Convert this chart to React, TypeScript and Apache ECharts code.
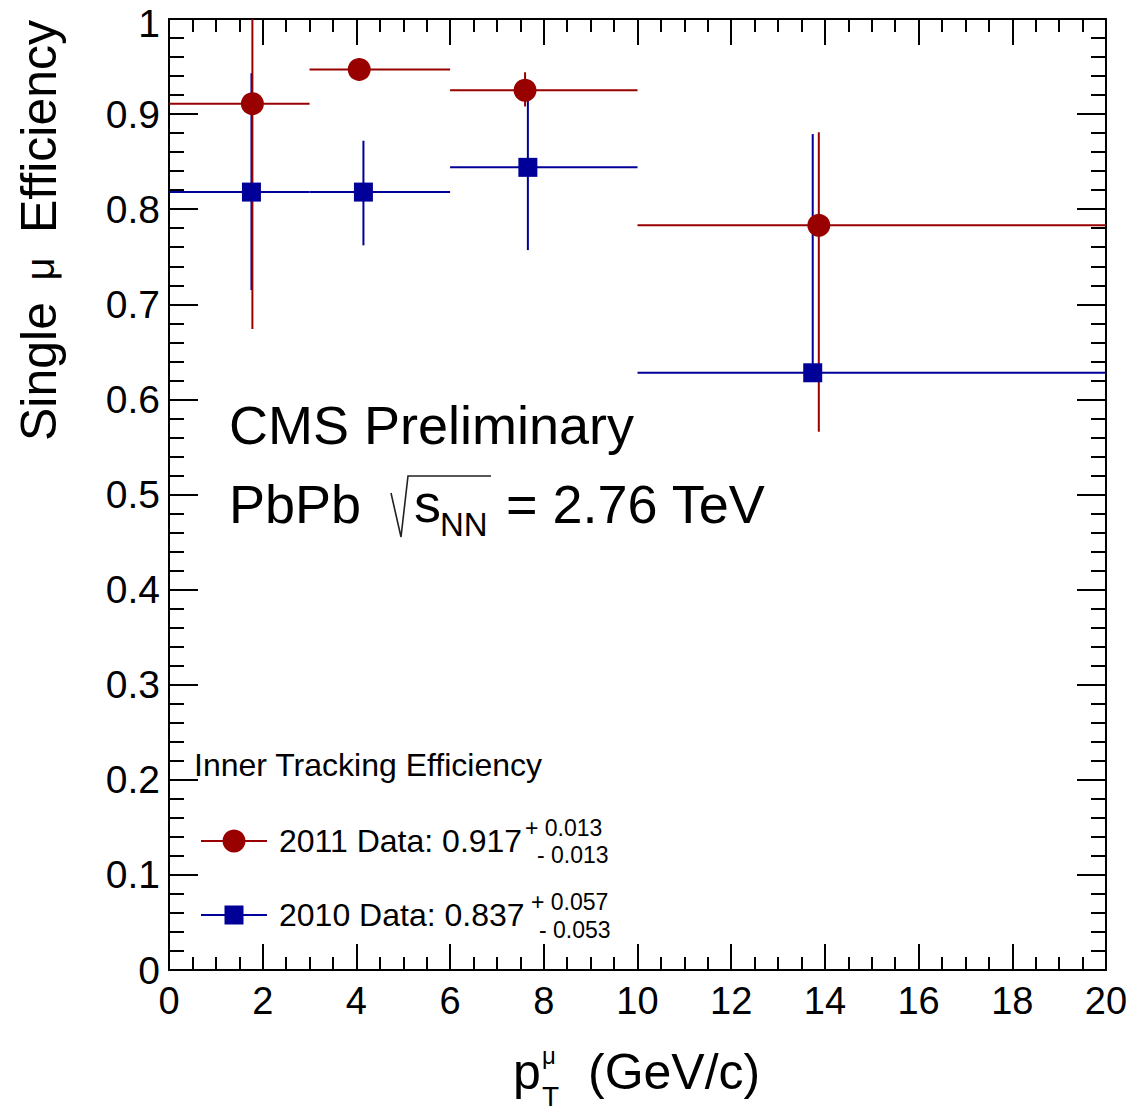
import React, { useEffect, useRef } from "react";
import * as echarts from "echarts";

// ---- data ----
const X_2011 = [1.78, 4.06, 7.6, 13.87];
const Y_2011 = [0.911, 0.947, 0.925, 0.783];
const XLO_2011 = [0, 3, 6, 10];
const XHI_2011 = [3, 6, 10, 20];
const YLO_2011 = [0.674, 0.935, 0.908, 0.566];
const YHI_2011 = [1.0, 0.959, 0.944, 0.881];

const X_2010 = [1.76, 4.15, 7.66, 13.74];
const Y_2010 = [0.818, 0.818, 0.844, 0.628];
const XLO_2010 = [0, 3, 6, 10];
const XHI_2010 = [3, 6, 10, 20];
const YLO_2010 = [0.715, 0.762, 0.757, 0.62];
const YHI_2010 = [0.943, 0.872, 0.917, 0.879];

const LEGEND_TITLE = "Inner Tracking Efficiency";
const LEGEND_2011 = { label: "2011 Data: 0.917", up: "+ 0.013", down: "- 0.013" };
const LEGEND_2010 = { label: "2010 Data: 0.837", up: "+ 0.057", down: "- 0.053" };

const RED = "#990000";
const BLUE = "#000099";
const FONT = "Liberation Sans, Arial, Helvetica, sans-serif";

function rows(xs: number[], ys: number[], xlo: number[], xhi: number[], ylo: number[], yhi: number[]) {
  return xs.map((x, i) => [x, ys[i], xlo[i], xhi[i], ylo[i], yhi[i]]);
}

function errSeries(data: number[][], color: string) {
  return {
    type: "custom",
    clip: true,
    data,
    encode: { x: 0, y: 1 },
    renderItem: (_p: any, api: any) => {
      const x = api.value(0), y = api.value(1);
      const pL = api.coord([api.value(2), y]);
      const pR = api.coord([api.value(3), y]);
      const pB = api.coord([x, api.value(4)]);
      const pT = api.coord([x, api.value(5)]);
      const style = { stroke: color, lineWidth: 2 };
      return {
        type: "group",
        children: [
          { type: "line", shape: { x1: pL[0], y1: pL[1], x2: pR[0], y2: pR[1] }, style },
          { type: "line", shape: { x1: pB[0], y1: pB[1], x2: pT[0], y2: pT[1] }, style },
        ],
      };
    },
  };
}

function txt(text: string, x: number, y: number, fontSize: number, extra: any = {}, rotation = 0) {
  return {
    type: "text",
    x,
    y,
    rotation,
    z: 10,
    style: {
      text,
      fontSize,
      fontFamily: FONT,
      fill: "#000",
      align: "left",
      verticalAlign: "middle",
      ...extra,
    },
  };
}

export default function App() {
  const ref = useRef<HTMLDivElement>(null);
  useEffect(() => {
    document.body.style.margin = "0";
    const chart = echarts.init(ref.current!, null, { renderer: "svg" });
    const tickStyle = { color: "#000", width: 2 };
    const xBase = {
      type: "value",
      min: 0,
      max: 20,
      interval: 2,
      axisLine: { show: true, onZero: false, lineStyle: { color: "#000", width: 2 } },
      axisTick: { show: true, inside: true, length: 26, lineStyle: tickStyle },
      minorTick: { show: true, splitNumber: 4, length: 13, lineStyle: tickStyle },
      splitLine: { show: false },
      minorSplitLine: { show: false },
    };
    const yBase = {
      type: "value",
      min: 0,
      max: 1,
      interval: 0.1,
      axisLine: { show: true, onZero: false, lineStyle: { color: "#000", width: 2 } },
      axisTick: { show: true, inside: true, length: 29, lineStyle: tickStyle },
      minorTick: { show: true, splitNumber: 5, length: 15, lineStyle: tickStyle },
      splitLine: { show: false },
      minorSplitLine: { show: false },
    };
    const option: any = {
      animation: false,
      backgroundColor: "#fff",
      grid: { left: 169, right: 26, top: 19, bottom: 141, containLabel: false },
      xAxis: [
        {
          ...xBase,
          position: "bottom",
          axisLabel: { show: true, fontSize: 38, color: "#000", fontFamily: FONT, margin: 12 },
        },
        { ...xBase, position: "top", axisLabel: { show: false } },
      ],
      yAxis: [
        {
          ...yBase,
          position: "left",
          axisLabel: {
            show: true,
            color: "#000",
            fontFamily: FONT,
            fontSize: 39,
            margin: 9,
            formatter: (v: number) => (v >= 1 ? "{t|" + v + "}" : "{n|" + v + "}"),
            rich: {
              n: { fontSize: 39, fontFamily: FONT, color: "#000" },
              t: { fontSize: 39, fontFamily: FONT, color: "#000", padding: [8, 0, 0, 0] },
            },
          },
        },
        { ...yBase, position: "right", axisLabel: { show: false } },
      ],
      series: [
        errSeries(rows(X_2010, Y_2010, XLO_2010, XHI_2010, YLO_2010, YHI_2010), BLUE),
        {
          type: "scatter",
          symbol: "rect",
          symbolSize: 19,
          itemStyle: { color: BLUE, opacity: 1 },
          data: X_2010.map((x, i) => [x, Y_2010[i]]),
        },
        errSeries(rows(X_2011, Y_2011, XLO_2011, XHI_2011, YLO_2011, YHI_2011), RED),
        {
          type: "scatter",
          symbol: "circle",
          symbolSize: 23,
          itemStyle: { color: RED, opacity: 1 },
          data: X_2011.map((x, i) => [x, Y_2011[i]]),
        },
      ],
      graphic: [
        // y axis title (rotated)
        txt("Single", 39, 441, 50, {}, Math.PI / 2),
        txt("\u03bc", 40, 269, 40, { align: "center" }, Math.PI / 2),
        txt("Efficiency", 39, 20, 50, { align: "right" }, Math.PI / 2),
        // x axis title
        txt("p", 513, 1072, 50),
        txt("\u03bc", 542, 1055, 24),
        txt("T", 542, 1096, 28),
        txt("(GeV/c)", 588, 1072, 50),
        // CMS label
        txt("CMS Preliminary", 229, 425, 54),
        txt("PbPb", 229, 504, 54),
        {
          type: "polyline",
          z: 10,
          shape: { points: [[391, 493], [401, 537], [408, 476], [491, 476]] },
          style: { stroke: "#222", lineWidth: 1.6, fill: null },
        },
        txt("s", 414, 503, 54),
        txt("NN", 440, 524, 33),
        txt("= 2.76 TeV", 506, 504, 54),
        // legend
        txt(LEGEND_TITLE, 194, 765, 32),
        { type: "line", z: 10, shape: { x1: 201, y1: 841, x2: 267, y2: 841 }, style: { stroke: RED, lineWidth: 2 } },
        { type: "circle", z: 11, shape: { cx: 234, cy: 841, r: 11.5 }, style: { fill: RED } },
        txt(LEGEND_2011.label, 279, 841, 32),
        txt(LEGEND_2011.up, 525, 828, 23),
        txt(LEGEND_2011.down, 537, 855, 23),
        { type: "line", z: 10, shape: { x1: 201, y1: 915, x2: 267, y2: 915 }, style: { stroke: BLUE, lineWidth: 2 } },
        { type: "rect", z: 11, shape: { x: 224.5, y: 905.5, width: 19, height: 19 }, style: { fill: BLUE } },
        txt(LEGEND_2010.label, 279, 915, 32),
        txt(LEGEND_2010.up, 531, 902, 23),
        txt(LEGEND_2010.down, 539, 930, 23),
      ],
    };
    chart.setOption(option);
    return () => chart.dispose();
  }, []);
  return <div ref={ref} style={{ width: 1132, height: 1111 }} />;
}
